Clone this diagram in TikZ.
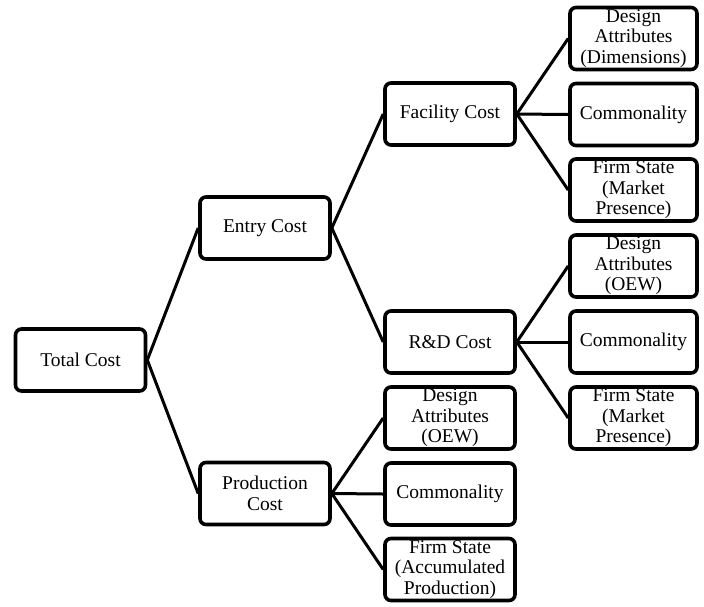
\documentclass[tikz,border=0pt]{standalone}
\usepackage{fontspec}
\setmainfont{Liberation Serif}
\begin{document}
\begin{tikzpicture}[x=1pt,y=-1pt,
  box/.style={draw=black, line width=3.6pt, rounded corners=6pt, fill=white,
    minimum width=130pt, minimum height=62pt, inner sep=0pt, align=center,
    font=\fontsize{19.5}{20.5}\selectfont},
  leaf/.style={box, minimum width=127pt},
  link/.style={line width=3pt}]
\useasboundingbox (0,0) rectangle (704,606);

% root and first level
\node[box] (total) at (80.5,360) {Total Cost};
\node[box] (entry) at (265,228) {Entry Cost};
\node[box] (prod) at (265,493.5) {Production\\Cost};

% second level
\node[box] (facility) at (450,114) {Facility Cost};
\node[box] (rd) at (450,342) {R\&D Cost};
\node[box] (pdes) at (450,418) {Design\\Attributes\\(OEW)};
\node[box] (pcom) at (450,494) {Commonality};
\node[box] (pfirm) at (450,569.5) {Firm State\\(Accumulated\\Production)};

% leaves of facility cost
\node[leaf] (fdes) at (633.5,38.5) {Design\\Attributes\\(Dimensions)};
\node[leaf] (fcom) at (633.5,114.5) {Commonality};
\node[leaf] (ffirm) at (633.5,190) {Firm State\\(Market\\Presence)};

% leaves of R&D cost
\node[leaf] (rdes) at (633.5,266) {Design\\Attributes\\(OEW)};
\node[leaf] (rcom) at (633.5,342) {Commonality};
\node[leaf] (rfirm) at (633.5,418) {Firm State\\(Market\\Presence)};

% connectors
\draw[link] (total.east) -- (entry.west);
\draw[link] (total.east) -- (prod.west);
\draw[link] (entry.east) -- (facility.west);
\draw[link] (entry.east) -- (rd.west);
\draw[link] (prod.east) -- (pdes.west);
\draw[link] (prod.east) -- (pcom.west);
\draw[link] (prod.east) -- (pfirm.west);
\draw[link] (facility.east) -- (fdes.west);
\draw[link] (facility.east) -- (fcom.west);
\draw[link] (facility.east) -- (ffirm.west);
\draw[link] (rd.east) -- (rdes.west);
\draw[link] (rd.east) -- (rcom.west);
\draw[link] (rd.east) -- (rfirm.west);
\end{tikzpicture}
\end{document}
